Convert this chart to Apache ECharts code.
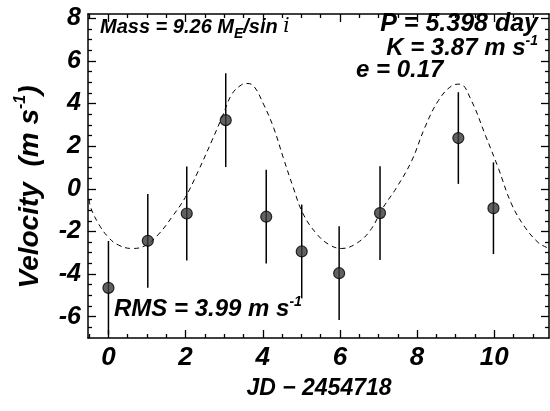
<!DOCTYPE html>
<html>
<head>
<meta charset="utf-8">
<script src="https://cdn.jsdelivr.net/npm/echarts@6/dist/echarts.min.js"></script>
<style>
  html, body { margin: 0; padding: 0; background: #fff; }
  #chart { width: 550px; height: 411px; }
</style>
</head>
<body>
<div id="chart"></div>
<script>
// observations (days since JD 2454718, m/s)
const obsX = [0.0, 1.02, 2.03, 3.04, 4.09, 5.01, 5.98, 7.04, 9.07, 9.98];
const obsY = [-4.65, -2.44, -1.16, 3.22, -1.31, -2.94, -3.96, -1.14, 2.38, -0.91];
const obsErr = [2.2, 2.2, 2.2, 2.2, 2.2, 2.2, 2.2, 2.2, 2.15, 2.15];

// keplerian fit
const fitX = [-0.5, -0.46, -0.25, 0.0, 0.26, 0.61, 0.95, 1.3, 1.64, 1.99, 2.33, 2.68, 2.94, 3.2,
  3.45, 3.58, 3.76, 4.02, 4.28, 4.53, 4.79, 5.05, 5.4, 5.74, 6.05, 6.43, 6.78, 7.12, 7.47,
  7.86, 8.2, 8.55, 8.9, 9.11, 9.41, 9.76, 10.1, 10.45, 10.8, 11.14, 11.36, 11.45];
const fitY = [-0.5, -0.88, -1.66, -2.28, -2.64, -2.8, -2.67, -2.13, -1.34, -0.41, 0.84, 2.25, 3.34, 4.44,
  4.88, 4.94, 4.83, 3.97, 2.87, 1.47, 0.06, -1.19, -2.12, -2.64, -2.8, -2.56, -1.97, -0.88, 0.06,
  1.31, 2.87, 4.13, 4.83, 4.91, 4.13, 2.56, 1.0, -0.72, -1.81, -2.52, -2.75, -2.78];

// ticks
const xMajor = [0, 2, 4, 6, 8, 10];
const xMinor = [-0.5, 0.5, 1, 1.5, 2.5, 3, 3.5, 4.5, 5, 5.5, 6.5, 7, 7.5, 8.5, 9, 9.5, 10.5, 11];
const yMajor = [-6, -4, -2, 0, 2, 4, 6, 8];
const yMinor = [-6.5, -5.5, -5, -4.5, -3.5, -3, -2.5, -1.5, -1, -0.5, 0.5, 1, 1.5, 2.5, 3, 3.5, 4.5, 5, 5.5, 6.5, 7, 7.5];

const FONT = '"Liberation Sans", Arial, sans-serif';
const X_MIN = -0.53, X_MAX = 11.42, Y_MIN = -7.0, Y_MAX = 8.2;

const chart = echarts.init(document.getElementById('chart'), null, { renderer: 'canvas' });

function xAx(position, ticks, len, withLine, withLabel) {
  return {
    type: 'value', position, min: X_MIN, max: X_MAX,
    splitLine: { show: false },
    axisLine: { show: withLine, onZero: false, lineStyle: { color: '#000', width: 1.5 } },
    axisTick: { show: true, inside: true, length: len, customValues: ticks, lineStyle: { color: '#000', width: 1.3 } },
    axisLabel: withLabel ? {
      show: true, customValues: xMajor, margin: 7, color: '#000',
      fontFamily: FONT, fontSize: 26, fontWeight: 'bold', fontStyle: 'italic'
    } : { show: false }
  };
}

function yAx(position, ticks, len, withLine, withLabel) {
  return {
    type: 'value', position, min: Y_MIN, max: Y_MAX,
    splitLine: { show: false },
    axisLine: { show: withLine, onZero: false, lineStyle: { color: '#000', width: 1.5 } },
    axisTick: { show: true, inside: true, length: len, customValues: ticks, lineStyle: { color: '#000', width: 1.3 } },
    axisLabel: withLabel ? {
      show: true, customValues: yMajor, margin: 7, color: '#000',
      fontFamily: FONT, fontSize: 25, fontWeight: 'bold', fontStyle: 'italic',
      formatter: (v) => (v < 0 ? '-' + Math.abs(v) : String(v))
    } : { show: false }
  };
}

const labelBase = { fontFamily: FONT, fontWeight: 'bold', fontStyle: 'italic', fill: '#000' };

chart.setOption({
  animation: false,
  grid: { left: 88, right: 1, top: 14, bottom: 73 },
  xAxis: [
    xAx('bottom', xMajor, 8, true, true),
    xAx('bottom', xMinor, 4, false, false),
    xAx('top', xMajor, 8, true, false),
    xAx('top', xMinor, 4, false, false)
  ],
  yAxis: [
    yAx('left', yMajor, 8, true, true),
    yAx('left', yMinor, 4, false, false),
    yAx('right', yMajor, 8, true, false),
    yAx('right', yMinor, 4, false, false)
  ],
  series: [
    {
      type: 'line',
      data: fitX.map((x, i) => [x, fitY[i]]),
      smooth: 0.4,
      showSymbol: false,
      lineStyle: { color: '#000', width: 1, type: [5, 4] },
      z: 1
    },
    {
      type: 'custom',
      data: obsX.map((x, i) => [x, obsY[i] - obsErr[i], obsY[i] + obsErr[i]]),
      renderItem: (params, api) => {
        const lo = api.coord([api.value(0), api.value(1)]);
        const hi = api.coord([api.value(0), api.value(2)]);
        return {
          type: 'line',
          shape: { x1: lo[0], y1: lo[1], x2: hi[0], y2: hi[1] },
          style: { stroke: '#000', lineWidth: 1.5 }
        };
      },
      clip: true,
      z: 2
    },
    {
      type: 'scatter',
      data: obsX.map((x, i) => [x, obsY[i]]),
      symbol: 'circle',
      symbolSize: 11,
      itemStyle: { color: '#3a3a3a', borderColor: '#000', borderWidth: 1.2 },
      z: 3
    }
  ],
  graphic: [
    {
      type: 'text', left: 100, top: 17,
      style: {
        text: '{t|Mass = 9.26 M}{s|E}{t|/sin }{i|i}',
        rich: {
          t: { ...labelBase, fontSize: 20, lineHeight: 28 },
          s: { ...labelBase, fontSize: 14, lineHeight: 14, verticalAlign: 'bottom' },
          i: { fontFamily: '"DejaVu Serif", serif', fontStyle: 'italic', fontSize: 20, lineHeight: 28, fill: '#000' }
        }
      }
    },
    {
      type: 'text', right: 12, top: 12,
      style: { text: 'P = 5.398 day', ...labelBase, fontSize: 25 }
    },
    {
      type: 'text', right: 12, top: 34,
      style: {
        text: '{t|K = 3.87 m s}{s|-1}',
        rich: {
          t: { ...labelBase, fontSize: 24, lineHeight: 28 },
          s: { ...labelBase, fontSize: 14, lineHeight: 14, verticalAlign: 'top' }
        }
      }
    },
    {
      type: 'text', left: 356, top: 58,
      style: { text: 'e = 0.17', ...labelBase, fontSize: 24 }
    },
    {
      type: 'text', left: 114, top: 295,
      style: {
        text: '{t|RMS = 3.99 m s}{s|-1}',
        rich: {
          t: { ...labelBase, fontSize: 24, lineHeight: 28 },
          s: { ...labelBase, fontSize: 14, lineHeight: 14, verticalAlign: 'top' }
        }
      }
    },
    {
      type: 'text', x: 319, y: 389,
      style: { text: 'JD \u2212 2454718', ...labelBase, fontSize: 23, align: 'center', verticalAlign: 'middle' }
    },
    {
      type: 'text', x: 30, y: 187, rotation: Math.PI / 2,
      style: {
        text: '{t|Velocity  (m s}{s|-1}{t|)}',
        align: 'center', verticalAlign: 'middle',
        rich: {
          t: { ...labelBase, fontSize: 28, lineHeight: 34 },
          s: { ...labelBase, fontSize: 16, lineHeight: 16, verticalAlign: 'top' }
        }
      }
    }
  ]
});
</script>
</body>
</html>
